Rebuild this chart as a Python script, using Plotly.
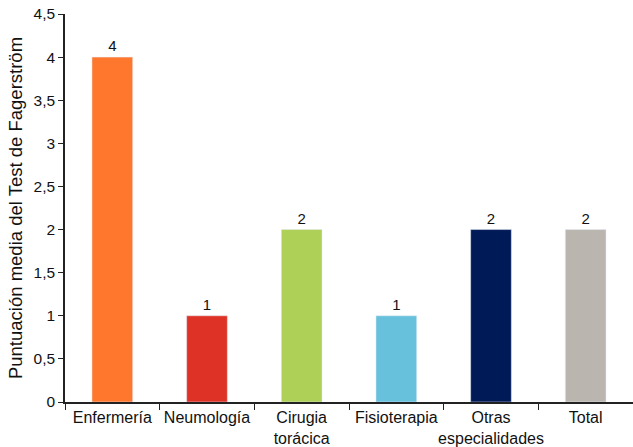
import plotly.graph_objects as go

categories = ["Enfermería", "Neumología", "Cirugia<br>torácica", "Fisioterapia", "Otras<br>especialidades", "Total"]
values = [4, 1, 2, 1, 2, 2]
bar_labels = ["4", "1", "2", "1", "2", "2"]
colors = ["#FF772D", "#DF3226", "#AED056", "#68C1DC", "#001A57", "#BAB6AF"]
ytick_vals = [0, 0.5, 1, 1.5, 2, 2.5, 3, 3.5, 4, 4.5]
ytick_text = ["0", "0,5", "1", "1,5", "2", "2,5", "3", "3,5", "4", "4,5"]

fig = go.Figure(go.Bar(
    x=categories, y=values, marker_color=colors, width=0.43,
    text=bar_labels, textposition="outside", cliponaxis=False,
    textfont=dict(size=15, color="#111111"),
))

fig.update_layout(
    width=633, height=447,
    margin=dict(l=65, r=0, t=14, b=45),
    plot_bgcolor="white", paper_bgcolor="white",
    font=dict(family="Liberation Sans, Arial, sans-serif", size=15, color="#111111"),
    showlegend=False,
    xaxis=dict(
        range=[-0.5, 5.5], showline=True, linecolor="#222222", linewidth=1.5,
        ticks="outside", tickson="boundaries", ticklen=6, tickcolor="#222222",
        tickfont=dict(size=16), showgrid=False, tickangle=0, automargin=False,
    ),
    yaxis=dict(
        range=[0, 4.5], tickvals=ytick_vals, ticktext=ytick_text,
        showline=True, linecolor="#222222", linewidth=1.5,
        ticks="outside", ticklen=5, tickcolor="#222222", showgrid=False,
        zeroline=False, tickfont=dict(size=15.5), automargin=False,
        title=dict(text="Puntuación media del Test de Fagerström", font=dict(size=18.5), standoff=6),
    ),
)

fig.write_html("out.html", config={"displayModeBar": False},
               post_script="document.body.style.margin='0';")
